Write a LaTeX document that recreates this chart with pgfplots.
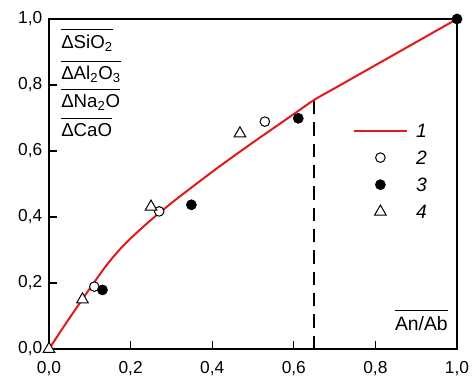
\documentclass[border=0pt]{standalone}
\usepackage{pgfplots}
\pgfplotsset{compat=1.18}
\usepackage{fontspec}
\setmainfont{Liberation Sans}
\definecolor{cred}{RGB}{225,25,25}
\pgfplotsset{
  lineleg/.style={legend image code/.code={\draw[##1] (0pt,0pt) -- (40pt,0pt);}},
  markleg/.style={legend image code/.code={\draw[##1] plot coordinates {(20pt,0pt)};}},
}
\begin{document}
\begin{tikzpicture}
\useasboundingbox (-36.75pt,-21.75pt) rectangle (318pt,261.75pt);
\begin{axis}[
  at={(0pt,0pt)}, anchor=south west,
  scale only axis, width=306pt, height=247.5pt,
  xmin=0, xmax=1, ymin=0, ymax=1,
  axis line style={line width=1pt},
  tick style={line width=1pt, black},
  tick align=inside, xtick pos=bottom, ytick pos=left,
  major tick length=6pt,
  xtick={0,0.2,0.4,0.6,0.8,1},
  ytick={0,0.2,0.4,0.6,0.8,1},
  xticklabels={{0,0},{0,2},{0,4},{0,6},{0,8},{1,0}},
  yticklabels={{0,0},{0,2},{0,4},{0,6},{0,8},{1,0}},
  ticklabel style={font=\fontsize{13}{15}\selectfont},
  xticklabel style={yshift=-6pt},
  yticklabel style={xshift=-1.5pt},
  legend cell align=left,
  legend style={draw=none, fill=none, at={(0.7444,0.683)}, anchor=north west,
    inner sep=0pt, outer sep=0pt, row sep=9.9pt, column sep=6pt,
    font=\fontsize{14.5}{17}\selectfont\itshape,
    nodes={inner sep=0pt, text height=10.4pt, text depth=0pt}},
]
\addplot[black, line width=1.5pt, dash pattern=on 10pt off 6pt, forget plot]
  coordinates {(0.65,0) (0.65,0.753)};
\addplot[cred, line width=1.5pt, no marks, smooth, tension=0.4, lineleg]
  coordinates {(0,0) (0.04,0.075) (0.082,0.151) (0.105,0.192) (0.141,0.254)
  (0.17,0.297) (0.194,0.328) (0.235,0.375) (0.272,0.414) (0.31,0.452)
  (0.35,0.490) (0.40,0.537) (0.45,0.582) (0.50,0.626) (0.55,0.669)
  (0.60,0.712) (0.65,0.755) (0.70,0.790) (0.75,0.825) (0.80,0.860)
  (0.85,0.895) (0.90,0.930) (0.95,0.965) (1,1)};
\addlegendentry{1}
\addplot[only marks, mark=*, mark size=3.6pt, mark options={draw=black, fill=white, line width=0.75pt}, markleg]
  coordinates {(0.111,0.189) (0.27,0.417) (0.529,0.689)};
\addlegendentry{2}
\addplot[only marks, mark=*, mark size=3.8pt, mark options={draw=black, fill=black}, markleg]
  coordinates {(0.131,0.179) (0.349,0.437) (0.611,0.699) (1,1)};
\addlegendentry{3}
\addplot[only marks, mark=triangle*, mark size=5pt, mark options={draw=black, fill=white, line width=0.75pt}, markleg]
  coordinates {(0,0) (0.082,0.150) (0.25,0.431) (0.468,0.653)};
\addlegendentry{4}
\end{axis}
\begin{scope}[every node/.style={anchor=base west, inner sep=0pt, font=\fontsize{14}{17}\selectfont}]
\node (t1) at (9pt,225pt) {ΔSiO\textsubscript{2}};
\node (t2) at (9pt,201.75pt) {ΔAl\textsubscript{2}O\textsubscript{3}};
\node (t3) at (9pt,180.75pt) {ΔNa\textsubscript{2}O};
\node (t4) at (9pt,159pt) {ΔCaO};
\end{scope}
\draw[line width=0.9pt] ([yshift=4.5pt]t1.north west) -- ([yshift=4.5pt]t1.north east);
\draw[line width=0.9pt] ([yshift=3.8pt]t2.north west) -- ([yshift=3.8pt]t2.north east);
\draw[line width=0.9pt] ([yshift=3.8pt]t3.north west) -- ([yshift=3.8pt]t3.north east);
\draw[line width=0.9pt] ([yshift=3.8pt]t4.north west) -- ([yshift=3.8pt]t4.north east);
\node[anchor=base east, inner sep=0pt, font=\fontsize{14.5}{17}\selectfont] (t5) at (299.25pt,14.25pt) {An/Ab};
\draw[line width=0.9pt] ([yshift=3.8pt]t5.north west) -- ([yshift=3.8pt]t5.north east);
\end{tikzpicture}
\end{document}
